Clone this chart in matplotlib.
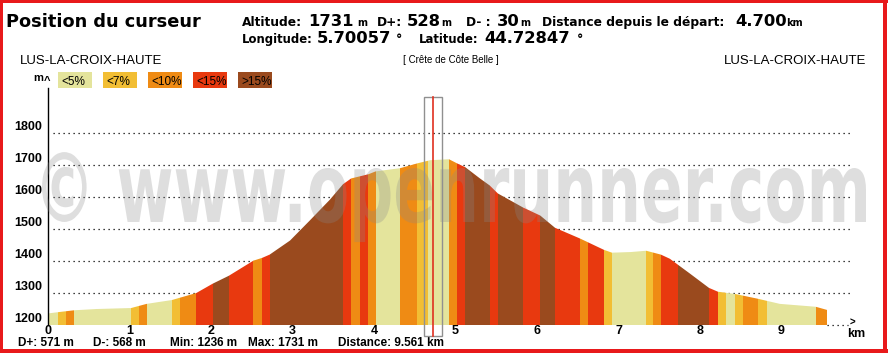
import numpy as np
import matplotlib
matplotlib.use('Agg')
import matplotlib.pyplot as plt
from matplotlib.patches import Polygon, Rectangle, PathPatch
from matplotlib.textpath import TextPath
from matplotlib.font_manager import FontProperties
from matplotlib.transforms import Affine2D, IdentityTransform

# elevation profile (km, m)
dist_km = [0.00, 0.12, 0.32, 0.60, 1.02, 1.21, 1.52, 1.82, 2.02, 2.22, 2.52, 2.63,
           2.72, 2.97, 3.21, 3.46, 3.62, 3.72, 3.93, 4.02, 4.32, 4.53, 4.69, 4.92,
           5.02, 5.12, 5.30, 5.42, 5.52, 5.83, 6.04, 6.22, 6.53, 6.82, 6.92, 7.15,
           7.34, 7.52, 7.63, 7.88, 8.11, 8.22, 8.43, 8.71, 8.98, 9.42, 9.56]
elev_m = [1236, 1240, 1246, 1250, 1253, 1266, 1278, 1300, 1329, 1354, 1401, 1410,
          1420, 1464, 1526, 1592, 1640, 1658, 1671, 1680, 1690, 1705, 1715, 1718,
          1705, 1693, 1658, 1636, 1611, 1567, 1542, 1504, 1470, 1435, 1426, 1428,
          1432, 1420, 1407, 1360, 1316, 1304, 1297, 1282, 1266, 1257, 1247]

# slope classes between breaks
breaks = [0.00, 0.12, 0.22, 0.32, 1.02, 1.12, 1.21, 1.52, 1.62, 1.82, 2.02, 2.22,
          2.52, 2.63, 2.72, 3.62, 3.72, 3.83, 3.93, 4.02, 4.32, 4.53, 4.66, 4.92,
          5.02, 5.12, 5.42, 5.52, 5.83, 6.04, 6.22, 6.53, 6.63, 6.82, 6.92, 7.34,
          7.42, 7.52, 7.73, 8.11, 8.22, 8.32, 8.43, 8.53, 8.71, 8.82, 9.42, 9.56]
classes = [0, 1, 2, 0, 1, 2, 0, 1, 2, 3, 4, 3, 2, 3, 4, 3, 2, 3, 2, 0, 2, 1, 0, 2,
           3, 4, 3, 4, 3, 4, 3, 2, 3, 1, 0, 1, 2, 3, 4, 3, 1, 0, 1, 2, 1, 0, 2]

class_labels = ['<5%', '<7%', '<10%', '<15%', '>15%']
class_colors = ['#e4e49c', '#f2be34', '#ef8b14', '#e8390f', '#9a4a1e']

yticks = [1200, 1300, 1400, 1500, 1600, 1700, 1800]
xticks = [0, 1, 2, 3, 4, 5, 6, 7, 8, 9]
cursor_km = 4.7

W, H = 888, 353
fig = plt.figure(figsize=(W / 100, H / 100), dpi=100)


def fx(x):
    return x / W


def fy(y):
    return 1 - y / H


def put(x, y, s, size, weight='bold', family='DejaVu Sans', **kw):
    fig.text(fx(x), fy(y), s, fontsize=size, fontweight=weight, family=family,
             ha=kw.pop('ha', 'left'), va=kw.pop('va', 'baseline'), **kw)


# plot area: x 0 at px 48, 81.5 px/km ; 1200 m at px 325, 0.32 px/m
ax = fig.add_axes([fx(48), fy(325), (855 - 48) / W, (325 - 88) / H])
ax.set_xlim(0, (855 - 48) / 81.5)
ax.set_ylim(1200, 1200 + (325 - 88) / 0.32)
for s in ['top', 'right', 'bottom']:
    ax.spines[s].set_visible(False)
ax.spines['left'].set_linewidth(1)

# dotted grid
for yv in yticks[1:]:
    ax.plot([0.06, 9.85], [yv, yv], color='black', lw=0.9, ls=(0, (1, 3)), zorder=1)
ax.plot([9.56, 9.82], [1200, 1200], color='black', lw=0.9, ls=(0, (1, 3)),
        zorder=1, clip_on=False)

# profile filled by slope class
verts = [(dist_km[0], 1200)] + list(zip(dist_km, elev_m)) + [(dist_km[-1], 1200)]
prof = Polygon(verts, closed=True, fc='none', ec='none')
ax.add_patch(prof)
for a, b, c in zip(breaks[:-1], breaks[1:], classes):
    sp = ax.axvspan(a, b, color=class_colors[c], lw=0, zorder=2)
    sp.set_clip_path(prof)

ax.set_yticks(yticks)
ax.set_yticklabels([str(v) for v in yticks], fontsize=9, fontweight='bold',
                   family='Liberation Sans')
for lab in ax.get_yticklabels():
    lab.set_va('bottom')
ax.set_xticks(xticks)
ax.set_xticklabels([str(v) for v in xticks], fontsize=9, fontweight='bold',
                   family='Liberation Sans')
ax.tick_params(axis='both', length=0)
ax.tick_params(axis='y', pad=4)
ax.tick_params(axis='x', pad=0)

# axis end markers
put(852, 326, '>', 7, family='Liberation Sans', ha='center')
put(856, 337, 'km', 9, family='Liberation Sans', ha='center')
put(38, 81, 'm', 8, family='Liberation Sans', ha='center')
put(47, 84, '^', 8, family='Liberation Sans', ha='center')

# legend boxes
for i, (lab, col) in enumerate(zip(class_labels, class_colors)):
    x0 = 58 + i * 45
    fig.patches.append(Rectangle((fx(x0), fy(88)), 34 / W, 16 / H, fc=col, ec='none',
                                 transform=fig.transFigure, figure=fig))
    put(x0 + 3, 85, lab, 8.5, weight='normal', family='Liberation Sans')

# header
put(6, 27, 'Position du curseur', 12.8)
put(242, 26, 'Altitude:', 8.8)
put(308, 26, '1731', 11.8)
put(357, 26, 'm', 7)
put(377, 26, 'D+:', 8.8)
put(407, 26, '528', 11.8)
put(441, 26, 'm', 7)
put(466, 26, 'D- :', 8.8)
put(497, 26, '30', 11.8)
put(520, 26, 'm', 7)
put(542, 26, 'Distance depuis le départ:', 8.8)
put(735, 26, '4.700', 11.8)
put(786, 26, 'km', 7)
put(242, 43, 'Longitude:', 8.4)
put(317, 43, '5.70057', 11.8)
put(396, 43, '°', 9)
put(419, 43, 'Latitude:', 8.4)
put(484, 43, '44.72847', 11.8)
put(577, 43, '°', 9)

put(20, 64, 'LUS-LA-CROIX-HAUTE', 9.5, weight='normal', family='Liberation Sans')
put(866, 64, 'LUS-LA-CROIX-HAUTE', 9.5, weight='normal', family='Liberation Sans',
    ha='right')
put(451, 63, '[ Crête de Côte Belle ]', 7, weight='normal',
    family=['Liberation Sans Narrow', 'Liberation Sans'], ha='center')

# bottom summary
put(18, 346, 'D+: 571 m', 8.5, family='Liberation Sans')
put(93, 346, 'D-: 568 m', 8.5, family='Liberation Sans')
put(170, 346, 'Min: 1236 m', 8.5, family='Liberation Sans')
put(248, 346, 'Max: 1731 m', 8.5, family='Liberation Sans')
put(338, 346, 'Distance: 9.561 km', 8.5, family='Liberation Sans')

# cursor
cx = 48 + cursor_km * 81.5
fig.patches.append(Rectangle((fx(cx - 7), fy(336)), 18 / W, (336 - 97) / H, fc='none',
                             ec='#909090', lw=1, transform=fig.transFigure, figure=fig,
                             zorder=5))
fig.lines.append(plt.Line2D([fx(cx + 1.5), fx(cx + 1.5)], [fy(97), fy(336)],
                            color='#e03020', lw=1.2, transform=fig.transFigure,
                            figure=fig, zorder=6))

# watermark
tp = TextPath((0, 0), '© www.openrunner.com', size=1,
              prop=FontProperties(family='DejaVu Sans', weight='bold'))
bb = tp.get_extents()
tr = Affine2D().translate(-bb.x0, 0).scale((866 - 42) / bb.width, 54 / 0.56) \
    .translate(42, H - 222)
wm = PathPatch(tr.transform_path(tp), fc='#8a8a8a', ec='none', alpha=0.28,
               transform=IdentityTransform(), zorder=4)
fig.add_artist(wm)

# red frame
red = '#e8191b'
for (x, y, w, h) in [(0, 0, W, 3), (0, 0, 3, H), (883, 0, 4, H), (0, 349, W, 4)]:
    fig.patches.append(Rectangle((fx(x), fy(y + h)), w / W, h / H, fc=red, ec='none',
                                 transform=fig.transFigure, figure=fig, zorder=10))

fig.savefig('out.png', dpi=100)
